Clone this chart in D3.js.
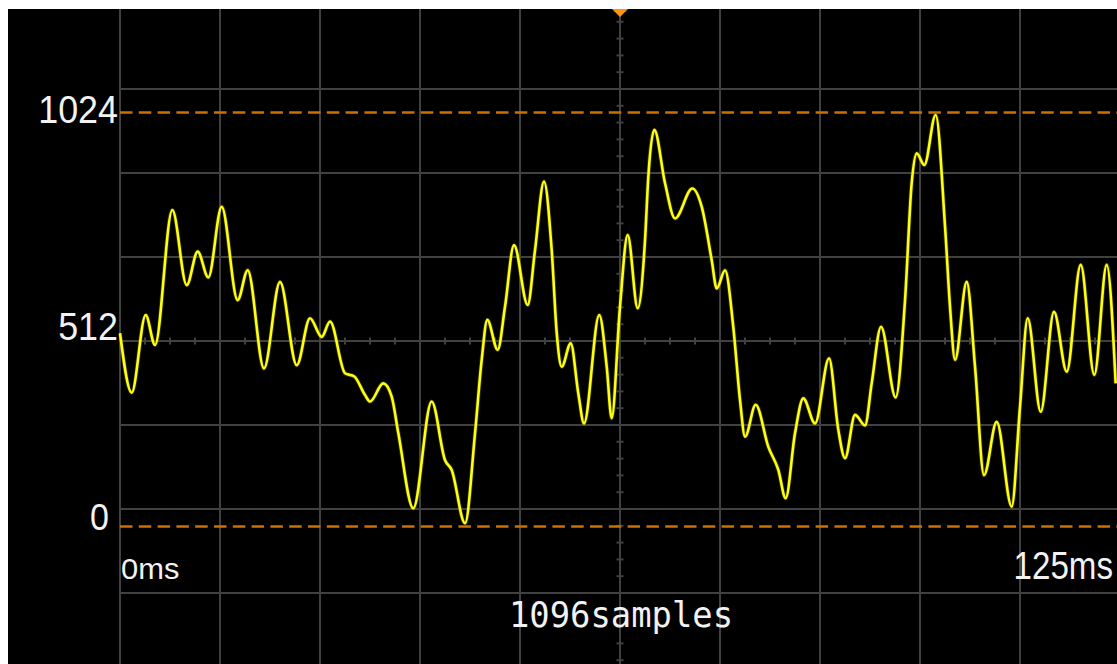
<!DOCTYPE html>
<html>
<head>
<meta charset="utf-8">
<script src="https://cdn.jsdelivr.net/npm/d3@7"></script>
<style>
  html, body { margin: 0; padding: 0; background: #fff; overflow: hidden; }
  svg { display: block; }
</style>
</head>
<body>
<svg id="scope" width="1117" height="664"></svg>
<script>
// Captured waveform: time (ms) and level (10-bit ADC counts)
const timeMs = [0, 1.46, 3.21, 4.38, 6.54, 8.34, 9.71, 11.04, 12.71, 14.71,
  15.96, 18.0, 20.0, 22.09, 23.75, 25.21, 26.25, 28.13, 29.29, 30.63,
  31.25, 32.91, 33.96, 34.79, 36.66, 38.96, 40.63, 41.46, 43.13, 44.38,
  45.21, 45.91, 47.21, 48.13, 49.25, 50.96, 51.88, 53.0, 53.96, 54.59,
  55.21, 56.34, 57.29, 58.0, 59.91, 60.84, 61.46, 62.5, 63.46, 64.71,
  65.63, 66.04, 66.79, 68.13, 69.38, 71.54, 72.71, 73.96, 74.59, 75.63,
  76.66, 77.5, 78.13, 79.46, 81.04, 82.29, 83.21, 84.38, 85.41, 86.88,
  88.63, 89.79, 90.63, 91.88, 93.13, 93.96, 95.13, 96.96, 98.13, 98.96,
  99.59, 100.54, 101.96, 103.13, 103.75, 104.38, 105.84, 106.88, 108.0, 109.59,
  111.46, 112.5, 113.46, 115.09, 116.75, 118.34, 120.09, 121.79, 123.34, 124.46];
const level = [478, 331, 523, 449, 783, 597, 680, 616, 791, 560,
  634, 391, 605, 399, 515, 469, 507, 379, 371, 325,
  309, 354, 321, 231, 45, 309, 164, 140, 8, 231,
  412, 511, 437, 544, 696, 548, 684, 853, 684, 479,
  395, 453, 329, 255, 523, 395, 268, 544, 721, 540,
  709, 865, 981, 849, 762, 836, 791, 659, 589, 634,
  494, 313, 222, 301, 197, 140, 70, 231, 317, 255,
  416, 239, 169, 276, 250, 354, 494, 319, 560, 849,
  923, 894, 1018, 742, 544, 412, 605, 395, 127, 259,
  49, 296, 515, 284, 531, 383, 647, 375, 647, 354];

// Reference levels and labels
const refLevels = [1024, 0];
const levelTickValues = [1024, 512, 0];
const levelTickLabels = ["1024", "512", "0"];
const timeTickValues = [0, 125];
const timeTickLabels = ["0ms", "125ms"];
const sampleCount = 1096;
const timeSpanMs = 125;
const fullScale = 1024;

// ---- layout ----
const W = 1117, H = 664;
const screen = { x0: 8, y0: 9, x1: 1117, y1: 664 };
const plotLeft = 120, plotRight = 1120;

const svg = d3.select("#scope");

svg.append("rect").attr("width", W).attr("height", H).attr("fill", "#ffffff");
svg.append("rect")
  .attr("x", screen.x0).attr("y", screen.y0)
  .attr("width", screen.x1 - screen.x0).attr("height", screen.y1 - screen.y0)
  .attr("fill", "#000000");

svg.append("defs").append("clipPath").attr("id", "screenClip")
  .append("rect")
  .attr("x", screen.x0).attr("y", screen.y0)
  .attr("width", screen.x1 - screen.x0).attr("height", screen.y1 - screen.y0);

const root = svg.append("g").attr("clip-path", "url(#screenClip)");

// data scales
const x = d3.scaleLinear().domain([0, timeSpanMs]).range([plotLeft, plotRight]);
const y = d3.scaleLinear().domain([0, fullScale]).range([526.5, 112.5]);

// graticule: 10 horizontal divisions, vertical divisions centred on the screen
const gx = d3.scaleLinear().domain([0, 10]).range([plotLeft, plotRight]);
const gy = d3.scaleLinear().domain([-4, 4]).range([677, 5]);

const gridColor = "#414141";
const grid = root.append("g").attr("stroke", gridColor).attr("stroke-width", 2);

grid.selectAll("line.v").data(d3.range(0, 10)).join("line")
  .attr("class", "v")
  .attr("x1", d => gx(d)).attr("x2", d => gx(d))
  .attr("y1", screen.y0).attr("y2", screen.y1);

grid.selectAll("line.h").data(d3.range(-3, 4)).join("line")
  .attr("class", "h")
  .attr("x1", plotLeft).attr("x2", screen.x1)
  .attr("y1", d => gy(d)).attr("y2", d => gy(d));

// minor ticks on the centre axes
const yMinor = d3.range(-20, 21).map(i => i / 5).filter(v => !Number.isInteger(v));
const xMinor = d3.range(0, 41).map(i => i / 4).filter(v => !Number.isInteger(v));

grid.selectAll("line.ty").data(yMinor).join("line")
  .attr("class", "ty")
  .attr("x1", gx(5) - 3.5).attr("x2", gx(5) + 3.5)
  .attr("y1", d => gy(d)).attr("y2", d => gy(d));

grid.selectAll("line.tx").data(xMinor).join("line")
  .attr("class", "tx")
  .attr("x1", d => gx(d)).attr("x2", d => gx(d))
  .attr("y1", gy(0) - 3.5).attr("y2", gy(0) + 3.5);

// dashed reference levels
root.selectAll("line.ref").data(refLevels).join("line")
  .attr("class", "ref")
  .attr("x1", plotLeft).attr("x2", screen.x1)
  .attr("y1", d => y(d)).attr("y2", d => y(d))
  .attr("stroke", "#cc7000")
  .attr("stroke-width", 2.5)
  .attr("stroke-dasharray", "12.5,6.3");

// waveform
const points = timeMs.map((t, i) => ({ t, v: level[i] }));
const trace = d3.line()
  .x(d => x(d.t))
  .y(d => y(d.v))
  .curve(d3.curveMonotoneX);

root.append("path")
  .datum(points)
  .attr("d", trace)
  .attr("fill", "none")
  .attr("stroke", "#8c8c00")
  .attr("stroke-width", 4.2)
  .attr("stroke-opacity", 0.35)
  .attr("stroke-linejoin", "round");

root.append("path")
  .datum(points)
  .attr("d", trace)
  .attr("fill", "none")
  .attr("stroke", "#ffff10")
  .attr("stroke-width", 2.6)
  .attr("stroke-linejoin", "round");

// helper: place a horizontally condensed label
function label(sel, cfg) {
  return sel.append("text")
    .attr("transform", `translate(${cfg.x},${cfg.y}) scale(${cfg.sx},1)`)
    .attr("text-anchor", cfg.anchor)
    .attr("font-family", cfg.family)
    .attr("font-size", cfg.size)
    .attr("fill", "#f2f2f2")
    .text(cfg.text);
}

const sansFamily = "'Liberation Sans', Arial, sans-serif";

// level labels, right-aligned against the left edge of the plot
const levelLabelStyle = [
  { dx: -2, dy: 10.5, size: 39 },
  { dx: -2, dy: 20.5, size: 39 },
  { dx: -11, dy: 3.5, size: 37 }
];
levelTickValues.forEach((v, i) => {
  const s = levelLabelStyle[i];
  label(svg, { x: plotLeft + s.dx, y: y(v) + s.dy, sx: 0.92, anchor: "end",
    family: sansFamily, size: s.size, text: levelTickLabels[i] });
});

// time labels under the zero level
const timeLabelStyle = [
  { anchor: "start", dx: 1, size: 30, sx: 1.03 },
  { anchor: "end", dx: -7, size: 39, sx: 0.85 }
];
timeTickValues.forEach((v, i) => {
  const s = timeLabelStyle[i];
  label(svg, { x: x(v) + s.dx, y: y(0) + 52.5, sx: s.sx, anchor: s.anchor,
    family: sansFamily, size: s.size, text: timeTickLabels[i] });
});

// sample count
label(svg, { x: gx(5) + 1, y: y(0) + 100, sx: 0.94, anchor: "middle",
  family: "'DejaVu Sans Mono', 'Liberation Mono', monospace", size: 36,
  text: sampleCount + "samples" });

// trigger position marker
const cx = gx(5);
svg.append("path")
  .attr("d", `M${cx - 8},${screen.y0} L${cx + 8},${screen.y0} L${cx},${screen.y0 + 8} Z`)
  .attr("fill", "#ff9410");
</script>
</body>
</html>
